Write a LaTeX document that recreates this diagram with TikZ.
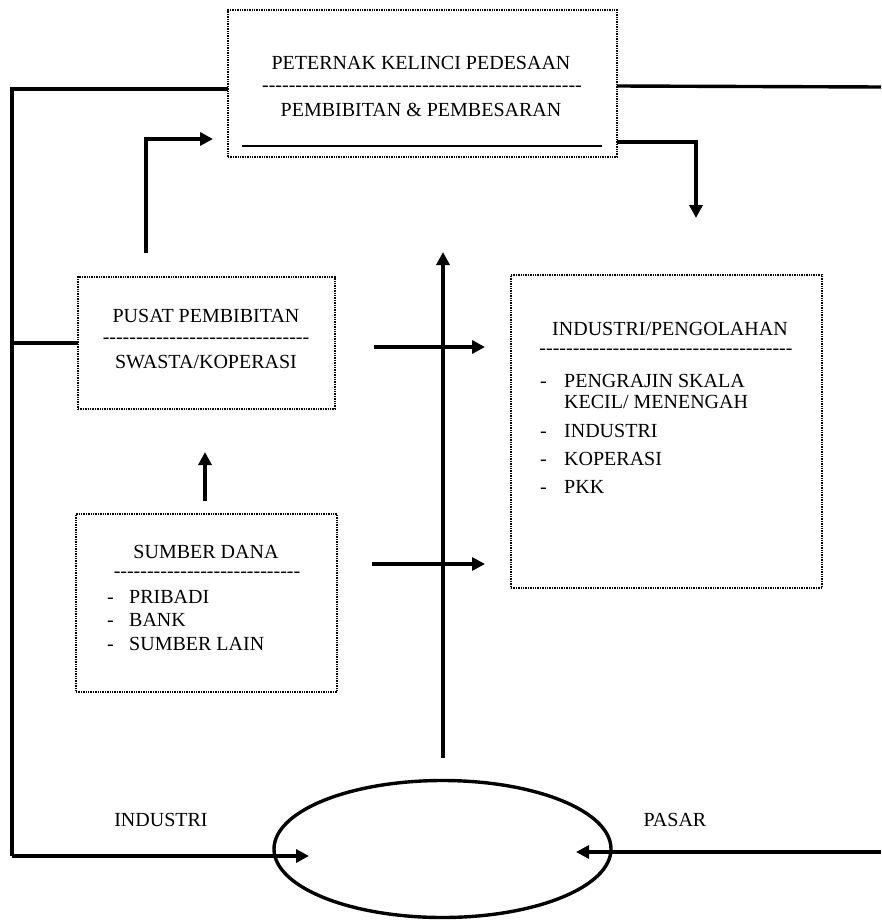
\documentclass[tikz,border=0pt]{standalone}
\usepackage{fontspec}
\setmainfont{Liberation Serif}
\usetikzlibrary{arrows.meta}
\usetikzlibrary{shapes.geometric}

\newcommand\dashrow[1]{\foreach \k in {1,...,#1}{-}}

\tikzset{
  dotbox/.style={draw, line width=1.4pt, dash pattern=on 1.4pt off 1pt, inner sep=0pt, outer sep=0pt},
  txt/.style={inner sep=0pt, font=\fontsize{20}{23}\selectfont, anchor=base},
  flow/.style={line width=3.4pt},
  flowarrow/.style={line width=3.4pt, -{Triangle[length=13pt,width=13pt]}},
}

\begin{document}
\begin{tikzpicture} [x=1pt,y=-1pt]
\useasboundingbox (0,0) rectangle (881,920);

% boxes
\node[dotbox, minimum width=389pt, minimum height=147pt] (peternak) at (422.5,83.5) {};
\node[dotbox, minimum width=257pt, minimum height=132pt] (pusat) at (206.5,343) {};
\node[dotbox, minimum width=261pt, minimum height=178pt] (sumber) at (206.5,603) {};
\node[dotbox, minimum width=311pt, minimum height=313pt] (industri) at (666.5,431.5) {};
\node[draw, ellipse, line width=3.4pt, minimum width=337pt, minimum height=137pt, inner sep=0pt] (oval) at (442.5,849) {};

% texts
\node[txt] (pt1) at (421,70) {PETERNAK KELINCI PEDESAAN};
\node[txt] (pt2) at (422,92) {\dashrow{48}};
\node[txt] (pt3) at (421,117) {PEMBIBITAN \& PEMBESARAN};
\draw[line width=2.8pt] (242,146) -- (602,146);

\node[txt] (ps1) at (206,322) {PUSAT PEMBIBITAN};
\node[txt] (ps2) at (206,343) {\dashrow{31}};
\node[txt] (ps3) at (206,368) {SWASTA/KOPERASI};

\node[txt] (sd1) at (206,558) {SUMBER DANA};
\node[txt] (sd2) at (207,577) {\dashrow{28}};
\foreach \y/\t in {603/PRIBADI, 626/BANK, 650/SUMBER LAIN} {
  \node[txt, anchor=base west] (sdd\y) at (107,\y) {-};
  \node[txt, anchor=base west] (sdt\y) at (129,\y) {\t};
}

\node[txt] (in1) at (670,335) {INDUSTRI/PENGOLAHAN};
\node[txt] (in2) at (666,354) {\dashrow{38}};
\foreach \y/\t in {387/PENGRAJIN SKALA, 437/INDUSTRI, 465/KOPERASI, 493/PKK} {
  \node[txt, anchor=base west] (ind\y) at (540,\y) {-};
  \node[txt, anchor=base west] (int\y) at (564,\y) {\t};
}
\node[txt, anchor=base west] (in3) at (564,408) {KECIL/ MENENGAH};

\node[txt] (lblind) at (161,826) {INDUSTRI};
\node[txt] (lblpas) at (675,826) {PASAR};

% connectors
\coordinate (lefttop) at (12,89);
\coordinate (leftbot) at (12,856);
\draw[flow] (peternak.west |- lefttop) -- (lefttop) -- (leftbot);
\draw[flowarrow] (leftbot) -- (309,856);
\draw[flow] (pusat.west) -- (pusat.west -| lefttop);
\draw[flow] (peternak.east |- 0,86) -- (881,87);
\draw[flowarrow] (peternak.east |- 0,142) -- (696,142) -- (696,218);
\draw[flowarrow] (146,253) -- (146,139) -- (213,139);
\draw[flowarrow] (205,501) -- (205,452);
\draw[flowarrow] (374,347) -- (485,347);
\draw[flowarrow] (372,564) -- (485,564);
\draw[flowarrow] (443,758) -- (443,252);
\draw[flowarrow] (881,852) -- (576,852);

\end{tikzpicture}
\end{document}
